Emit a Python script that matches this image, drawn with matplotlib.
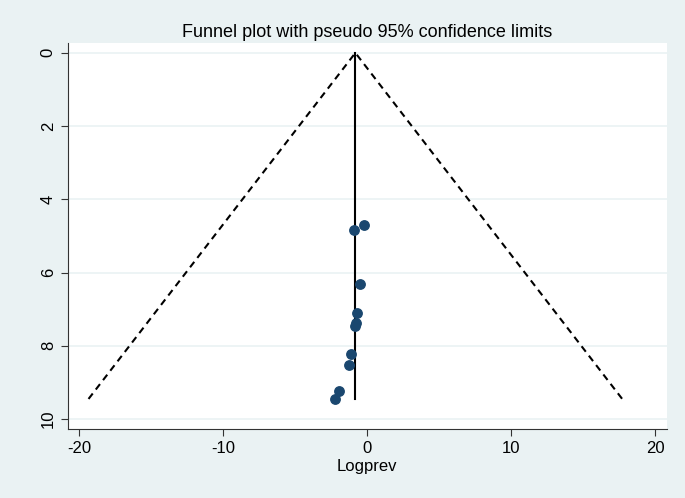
import matplotlib
matplotlib.use("Agg")
import matplotlib.pyplot as plt

# study estimates (Logprev) and their standard errors
logprev = [-0.90, -0.23, -0.53, -0.72, -0.81, -0.85, -1.15, -1.30, -1.94, -2.27]
se = [4.84, 4.69, 6.32, 7.09, 7.37, 7.47, 8.23, 8.52, 9.23, 9.44]

pooled = -0.83
se_max = 9.45
z = 1.96

bg = "#eaf2f3"
navy = "#1a476f"

plt.rcParams['font.family'] = ['Liberation Sans', 'DejaVu Sans']
plt.rcParams['axes.unicode_minus'] = False

fig = plt.figure(figsize=(6.85, 4.98), dpi=100, facecolor=bg)
ax = fig.add_axes([0.0988, 0.1386, 0.8749, 0.7751])
ax.set_facecolor("white")

# pseudo 95% limits
ax.plot([pooled - z * se_max, pooled, pooled + z * se_max], [se_max, 0, se_max],
        color="black", linestyle=(0, (3.3, 2.4)), lw=1.5)
ax.plot([pooled, pooled], [0, se_max], color="black", lw=1.5)
ax.scatter(logprev, se, s=46, color=navy, zorder=3)

ax.set_xlim(-20.8, 20.8)
ax.set_ylim(10.27, -0.27)
ax.set_xticks([-20, -10, 0, 10, 20])
ax.set_yticks([0, 2, 4, 6, 8, 10])
ax.tick_params(axis="y", labelrotation=90, labelsize=12, length=5, color="#333333")
ax.tick_params(axis="x", labelsize=12, length=5, color="#333333")
for lbl in ax.get_yticklabels():
    lbl.set_va("center")
ax.yaxis.grid(True, color=bg, lw=1.2)
ax.set_axisbelow(True)
for s in ["top", "right"]:
    ax.spines[s].set_visible(False)
for s in ["left", "bottom"]:
    ax.spines[s].set_color("#333333")

ax.set_xlabel("Logprev", fontsize=12, labelpad=2)
ax.set_title("Funnel plot with pseudo 95% confidence limits", fontsize=13, pad=4)

fig.savefig("out.png", dpi=100, facecolor=bg)
